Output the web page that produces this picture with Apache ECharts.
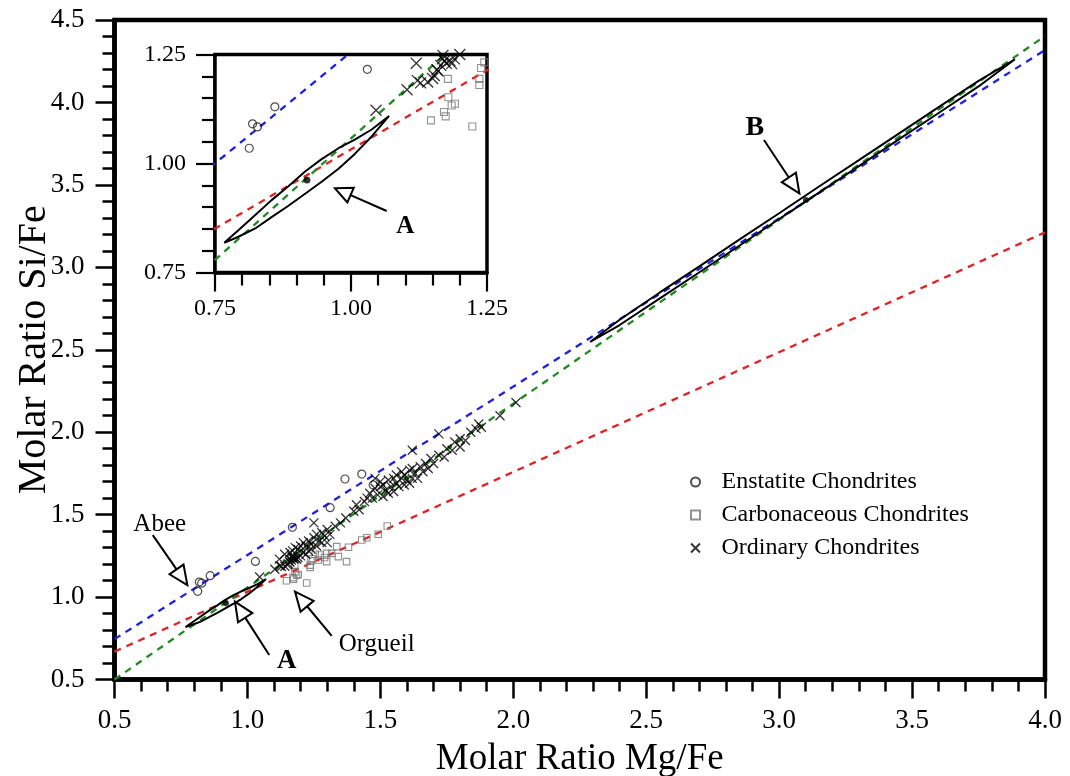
<!DOCTYPE html>
<html><head><meta charset="utf-8">
<script src="https://cdn.jsdelivr.net/npm/echarts@6/dist/echarts.min.js"></script>
<style>html,body{margin:0;padding:0;background:#fff}#c{width:1070px;height:776px}</style>
</head><body><div id="c"></div>
<script>
const FONT = '"Liberation Serif","Times New Roman",serif';

// ---- tick labels ----
const mainXTickLabels = ['0.5','1.0','1.5','2.0','2.5','3.0','3.5','4.0'];
const mainYTickLabels = ['0.5','1.0','1.5','2.0','2.5','3.0','3.5','4.0','4.5'];
const insetTickLabels = ['0.75','1.00','1.25'];

// ---- dashed reference lines (Mg/Fe -> Si/Fe) ----
const lineX = [0.5, 4.0];
const blueLineY = [0.745, 4.318];
const redLineY = [0.669, 3.212];
const greenLineY = [0.5, 4.403];

// ---- contour A (closed) ----
const contourAX = [0.767,0.793,0.824,0.854,0.885,0.915,0.946,0.977,1.007,1.038,1.070,1.038,1.007,0.977,0.946,0.915,0.885,0.854,0.824,0.793,0.767];
const contourAY = [0.818,0.847,0.882,0.916,0.948,0.981,1.010,1.035,1.055,1.078,1.109,1.062,1.022,0.988,0.958,0.930,0.903,0.877,0.851,0.832,0.818];

// ---- contour B (closed) ----
const contourBX = [2.289,2.40,2.55,2.70,2.85,3.00,3.15,3.30,3.45,3.60,3.75,3.887,3.75,3.60,3.45,3.30,3.15,3.00,2.85,2.70,2.55,2.40,2.289];
const contourBY = [2.547,2.682,2.846,3.006,3.168,3.328,3.490,3.650,3.811,3.972,4.131,4.262,4.097,3.936,3.776,3.614,3.453,3.293,3.131,2.970,2.810,2.650,2.547];

// ---- contour centres (A, B) ----
const centerX = [0.919, 3.101];
const centerY = [0.962, 3.408];

// ---- meteorite groups [Mg/Fe, Si/Fe] ----
const enstatite = [[0.813,1.035],[0.819,1.091],[0.828,1.084],[0.860,1.130],[1.030,1.216],[1.169,1.423],[1.311,1.542],[1.367,1.716],[1.430,1.746],[1.473,1.680]];
const carbonaceous = [[1.147,1.099],[1.171,1.118],[1.174,1.108],[1.179,1.152],[1.185,1.133],[1.191,1.137],[1.178,1.194],[1.223,1.085],[1.236,1.194],[1.236,1.180],[1.239,1.219],[1.245,1.232],[1.267,1.225],[1.273,1.255],[1.298,1.265],[1.317,1.265],[1.298,1.215],[1.342,1.245],[1.373,1.215],[1.336,1.306],[1.380,1.302],[1.430,1.346],[1.449,1.360],[1.492,1.381],[1.526,1.431],[1.255,1.260],[1.290,1.240]];
const ordinary = [[1.046,1.122],[1.103,1.169],[1.122,1.190],[1.128,1.185],[1.141,1.187],[1.150,1.195],[1.153,1.202],[1.158,1.215],[1.160,1.212],[1.165,1.225],[1.168,1.240],[1.169,1.248],[1.172,1.236],[1.175,1.230],[1.182,1.236],[1.185,1.229],
[1.12,1.23],[1.14,1.26],[1.16,1.27],[1.17,1.28],[1.18,1.30],
[1.19,1.24],[1.19,1.29],[1.20,1.25],[1.20,1.31],[1.21,1.27],[1.21,1.33],[1.22,1.26],[1.22,1.31],[1.23,1.28],[1.23,1.34],[1.24,1.32],[1.24,1.29],[1.25,1.36],[1.25,1.45],[1.26,1.31],[1.26,1.38],[1.27,1.34],[1.28,1.39],[1.28,1.33],[1.29,1.37],[1.30,1.33],[1.30,1.41],[1.31,1.38],[1.33,1.43],[1.35,1.45],[1.37,1.48],[1.40,1.52],[1.41,1.56],[1.42,1.53],[1.44,1.58],[1.45,1.60],
[1.46,1.63],[1.47,1.60],[1.48,1.66],[1.48,1.72],[1.49,1.62],[1.50,1.67],[1.50,1.70],[1.51,1.61],[1.51,1.68],[1.52,1.65],[1.53,1.63],[1.53,1.71],[1.54,1.67],[1.55,1.72],[1.55,1.64],[1.56,1.69],[1.56,1.74],[1.57,1.67],[1.58,1.72],[1.58,1.76],[1.59,1.68],[1.59,1.74],[1.60,1.71],[1.61,1.69],[1.61,1.77],[1.62,1.72],[1.62,1.78],[1.62,1.89],[1.63,1.75],[1.64,1.72],[1.65,1.79],[1.66,1.76],[1.67,1.81],[1.68,1.78],[1.69,1.84],[1.70,1.81],[1.72,1.86],[1.72,1.99],
[1.74,1.85],[1.75,1.90],[1.77,1.89],[1.78,1.94],[1.80,1.91],[1.80,1.96],[1.82,1.95],[1.84,2.00],[1.86,2.02],[1.87,2.05],[1.88,2.03],[1.95,2.10],[2.01,2.18]];

// ---- annotations (data coordinates): grid, text, text centre, arrow tail, arrow tip ----
const annotations = [
  {grid:0, text:'Abee',    bold:false, size:25, at:[0.670,1.440], tail:[0.644,1.376], tip:[0.774,1.073]},
  {grid:0, text:'A',       bold:true,  size:27, at:[1.148,0.610], tail:[1.082,0.649], tip:[0.953,0.972]},
  {grid:0, text:'Orgueil', bold:false, size:25, at:[1.486,0.715], tail:[1.317,0.764], tip:[1.179,1.033]},
  {grid:0, text:'B',       bold:true,  size:28, at:[2.909,3.845], tail:[2.943,3.772], tip:[3.076,3.449]},
  {grid:1, text:'A',       bold:true,  size:25, at:[1.0996,0.855], tail:[1.0656,0.891], tip:[0.9706,0.943]}
];

const CROSS = 'path://M0,0L10,10M10,0L0,10';
const SQUARE = 'path://M0,0L10,0L10,10L0,10Z';
const pairs = (xs, ys) => xs.map((x, i) => [x, ys[i]]);

function mkAxis(opt) {
  const labels = opt.labels;
  return {
    gridIndex: opt.grid, type: 'value', min: opt.min, max: opt.max, interval: opt.interval,
    axisLine: {show: true, onZero: false, lineStyle: {color: '#000', width: opt.lw}},
    axisTick: {show: true, inside: false, length: opt.tick, lineStyle: {color: '#000', width: opt.tw}},
    minorTick: {show: true, splitNumber: 5, length: opt.minor, lineStyle: {color: '#000', width: opt.tw}},
    splitLine: {show: false}, minorSplitLine: {show: false},
    axisLabel: {show: true, fontFamily: FONT, fontSize: opt.fs, color: '#000', margin: opt.margin,
      showMinLabel: true, showMaxLabel: true, hideOverlap: false,
      formatter: v => { const k = Math.round((v - opt.min) / opt.interval); return labels[k] !== undefined ? labels[k] : ''; }},
    name: opt.name || '', nameLocation: 'middle', nameGap: opt.nameGap || 0, nameMoveOverlap: false,
    nameTextStyle: {fontFamily: FONT, fontSize: opt.nfs || 37, color: '#000'}
  };
}

function dashed(idx, ys, color) {
  return {type: 'line', xAxisIndex: idx, yAxisIndex: idx, data: pairs(lineX, ys), symbol: 'none',
    lineStyle: {color: color, width: 2.3, type: [7, 6]}, silent: true, clip: true, z: 3};
}
function contour(idx, xs, ys) {
  return {type: 'line', xAxisIndex: idx, yAxisIndex: idx, data: pairs(xs, ys), symbol: 'none',
    lineStyle: {color: '#000', width: 2}, silent: true, clip: true, z: 4};
}
function groups(idx, inset) {
  return [
    {name: 'Enstatite Chondrites', type: 'scatter', xAxisIndex: idx, yAxisIndex: idx, data: enstatite, symbol: 'circle',
      symbolSize: 8, itemStyle: {color: 'rgba(255,255,255,0)', borderColor: '#222', borderWidth: 1.2}, clip: true, z: 5},
    {name: 'Carbonaceous Chondrites', type: 'scatter', xAxisIndex: idx, yAxisIndex: idx, data: carbonaceous, symbol: SQUARE,
      symbolSize: inset ? 7 : 6.5, itemStyle: {color: 'rgba(255,255,255,0)', borderColor: '#777', borderWidth: 1.1}, clip: true, z: 5},
    {name: 'Ordinary Chondrites', type: 'scatter', xAxisIndex: idx, yAxisIndex: idx, data: ordinary, symbol: CROSS,
      symbolSize: inset ? 11 : 9, itemStyle: {color: 'rgba(255,255,255,0)', borderColor: '#000', borderWidth: 1.3}, clip: true, z: 5}
  ];
}

const chart = echarts.init(document.getElementById('c'), null, {renderer: 'canvas'});
const option = {
  animation: false,
  backgroundColor: '#fff',
  grid: [
    {left: 114.5, top: 20, width: 930.5, height: 659.5, containLabel: false, outerBoundsMode: 'none',
      show: true, borderColor: '#000', borderWidth: 4.5, backgroundColor: 'rgba(0,0,0,0)'},
    {left: 215, top: 54.5, width: 272, height: 218, containLabel: false, outerBoundsMode: 'none',
      show: true, borderColor: '#000', borderWidth: 3.5, backgroundColor: '#fff', z: 1}
  ],
  xAxis: [
    mkAxis({grid: 0, min: 0.5, max: 4.0, interval: 0.5, labels: mainXTickLabels, lw: 4.5, tick: 19, minor: 12, tw: 2.5, fs: 27, margin: 28, name: 'Molar Ratio Mg/Fe', nameGap: 61, nfs: 37}),
    mkAxis({grid: 1, min: 0.75, max: 1.25, interval: 0.25, labels: insetTickLabels, lw: 3.5, tick: 19, minor: 13, tw: 2.2, fs: 24, margin: 24})
  ],
  yAxis: [
    mkAxis({grid: 0, min: 0.5, max: 4.5, interval: 0.5, labels: mainYTickLabels, lw: 4.5, tick: 19, minor: 12, tw: 2.5, fs: 27, margin: 30, name: 'Molar Ratio Si/Fe', nameGap: 60, nfs: 40}),
    mkAxis({grid: 1, min: 0.75, max: 1.25, interval: 0.25, labels: insetTickLabels, lw: 3.5, tick: 19, minor: 13, tw: 2.2, fs: 24, margin: 29})
  ],
  legend: {
    left: 685, top: 465, orient: 'vertical', itemWidth: 10, itemHeight: 9, itemGap: 9, symbolKeepAspect: true,
    selectedMode: false,
    textStyle: {fontFamily: FONT, fontSize: 24, color: '#000', lineHeight: 24, padding: [0, 0, 0, 16]},
    data: [{name: 'Enstatite Chondrites', icon: 'circle'}, {name: 'Carbonaceous Chondrites', icon: SQUARE}, {name: 'Ordinary Chondrites', icon: CROSS}]
  },
  series: [
    dashed(0, blueLineY, '#1f1fe6'), dashed(0, redLineY, '#e62020'), dashed(0, greenLineY, '#1e8c1e'),
    contour(0, contourAX, contourAY), contour(0, contourBX, contourBY),
    {type: 'scatter', xAxisIndex: 0, yAxisIndex: 0, data: pairs(centerX, centerY), symbol: 'circle', symbolSize: 6, itemStyle: {color: '#000'}, z: 6},
    ...groups(0, false),
    dashed(1, blueLineY, '#1f1fe6'), dashed(1, redLineY, '#e62020'), dashed(1, greenLineY, '#1e8c1e'),
    contour(1, contourAX, contourAY),
    {type: 'scatter', xAxisIndex: 1, yAxisIndex: 1, data: pairs(centerX, centerY), symbol: 'circle', symbolSize: 7, itemStyle: {color: '#000'}, clip: true, z: 6},
    ...groups(1, true)
  ]
};
chart.setOption(option);

// arrows with open triangular heads + labels, positioned through the axes
const graphics = [];
annotations.forEach(a => {
  const f = {xAxisIndex: a.grid, yAxisIndex: a.grid};
  const big = a.grid === 0;
  const L = big ? 19 : 17, W = big ? 17 : 16;
  const t = chart.convertToPixel(f, a.tail);
  const p = chart.convertToPixel(f, a.tip);
  const c = chart.convertToPixel(f, a.at);
  const dx = p[0] - t[0], dy = p[1] - t[1];
  const len = Math.hypot(dx, dy);
  const ux = dx / len, uy = dy / len;
  const bx = p[0] - ux * L, by = p[1] - uy * L;
  const nx = -uy, ny = ux;
  graphics.push({type: 'line', z: 100, shape: {x1: t[0], y1: t[1], x2: bx, y2: by}, style: {stroke: '#000', lineWidth: 2}});
  graphics.push({type: 'polygon', z: 101, shape: {points: [[p[0], p[1]], [bx + nx * W / 2, by + ny * W / 2], [bx - nx * W / 2, by - ny * W / 2]]},
    style: {fill: '#fff', stroke: '#000', lineWidth: 2}});
  graphics.push({type: 'text', z: 102, style: {text: a.text, x: c[0], y: c[1],
    font: (a.bold ? 'bold ' : '') + a.size + 'px ' + FONT,
    textAlign: 'center', textVerticalAlign: 'middle', align: 'center', verticalAlign: 'middle', fill: '#000'}});
});
chart.setOption({graphic: graphics});
</script>
</body></html>
